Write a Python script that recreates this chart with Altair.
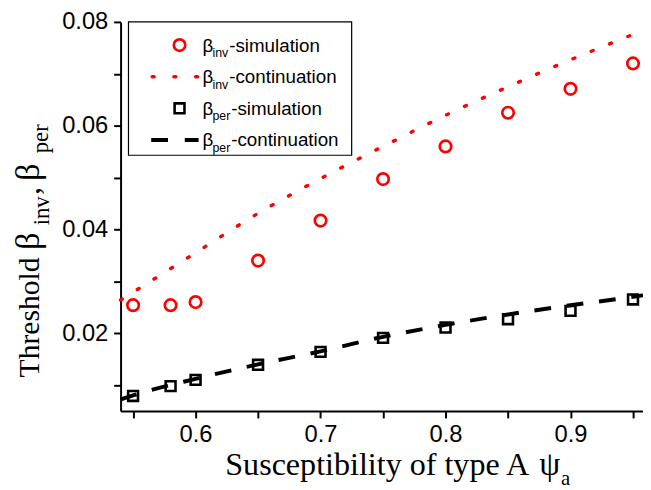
import altair as alt
import pandas as pd

# ---- data ----
sim_x = [0.55, 0.58, 0.60, 0.65, 0.70, 0.75, 0.80, 0.85, 0.90, 0.95]
inv_sim = [0.0254, 0.0254, 0.0260, 0.0340, 0.0417, 0.0497, 0.0560, 0.0625, 0.0671, 0.0720]
per_sim = [0.0079, 0.0098, 0.0110, 0.0139, 0.0164, 0.0191, 0.0211, 0.0227, 0.0243, 0.0265]

cont_x = [0.54, 0.55, 0.60, 0.65, 0.70, 0.75, 0.80, 0.85, 0.90, 0.95, 0.958]
inv_cont = [0.0264, 0.0279, 0.0355, 0.0431, 0.0498, 0.0560, 0.0620, 0.0675, 0.0727, 0.0776, 0.0784]
per_cont = [0.0072, 0.0080, 0.0112, 0.0140, 0.0165, 0.0193, 0.0216, 0.0236, 0.0254, 0.0270, 0.0273]

x_ticks = [0.55, 0.60, 0.65, 0.70, 0.75, 0.80, 0.85, 0.90, 0.95]
y_ticks = [0.01, 0.02, 0.03, 0.04, 0.05, 0.06, 0.07, 0.08]

sim = pd.DataFrame({"x": sim_x, "inv": inv_sim, "per": per_sim})
cont = pd.DataFrame({"x": cont_x, "inv": inv_cont, "per": per_cont})

RED = "#ff0000"
BLACK = "#000000"
SERIF = "Liberation Serif"
SANS = "Liberation Sans"

xs = alt.Scale(domain=[0.54, 0.958], nice=False, zero=False)
ys = alt.Scale(domain=[0.005, 0.08], nice=False, zero=False)

x_axis = alt.Axis(
    values=x_ticks,
    labelExpr="abs(datum.value*10 - round(datum.value*10)) < 0.001 ? format(datum.value, '.1f') : ''",
    title=None, grid=False, tickSize=7, tickWidth=2, domainWidth=2,
    labelPadding=5, labelFlush=False, labelOverlap=False,
)
y_axis = alt.Axis(
    values=y_ticks,
    labelExpr="abs(datum.value*50 - round(datum.value*50)) < 0.001 ? format(datum.value, '.2f') : ''",
    title=None, grid=False, tickSize=7, tickWidth=2, domainWidth=2,
    labelPadding=6, labelFlush=False, labelOverlap=False,
)

base_sim = alt.Chart(sim)
base_cont = alt.Chart(cont)

inv_pts = base_sim.mark_point(shape="circle", filled=False, color=RED, size=135, strokeWidth=2.7,
                              opacity=1).encode(
    x=alt.X("x:Q", scale=xs, axis=x_axis),
    y=alt.Y("inv:Q", scale=ys, axis=y_axis),
)
per_pts = base_sim.mark_point(shape="square", filled=False, color=BLACK, size=100, strokeWidth=2.6,
                              opacity=1).encode(
    x=alt.X("x:Q", scale=xs),
    y=alt.Y("per:Q", scale=ys),
)
inv_line = base_cont.mark_line(color=RED, strokeWidth=3.5, strokeDash=[2, 18], strokeCap="round",
                               interpolate="monotone").encode(
    x=alt.X("x:Q", scale=xs),
    y=alt.Y("inv:Q", scale=ys),
)
per_line = base_cont.mark_line(color=BLACK, strokeWidth=4, strokeDash=[17, 16],
                               interpolate="monotone").encode(
    x=alt.X("x:Q", scale=xs),
    y=alt.Y("per:Q", scale=ys),
)

one = alt.Data(values=[{}])


def txt(s, px, py, size, font=SERIF, align="left", angle=0, baseline="alphabetic"):
    return alt.Chart(one).mark_text(
        text=s, font=font, fontSize=size, align=align, baseline=baseline,
        angle=angle, color=BLACK,
    ).encode(x=alt.value(px), y=alt.value(py))


# axis titles (with subscripts)
x_title = [
    txt("Susceptibility of type A", 106, 459, 32.5),
    txt("\u03c8", 424, 459, 34),
    txt("a", 446, 469, 21),
]
y_title = [
    txt("Threshold", -83, 360, 30, angle=270),
    txt("\u03b2", -83, 231, 35, angle=270),
    txt("inv", -72, 206, 23, angle=270),
    txt(",", -83, 175, 31, angle=270),
    txt("\u03b2", -83, 161, 35, angle=270),
    txt("per", -73, 133, 23, angle=270),
]

# legend
legend_box = alt.Chart(one).mark_rect(fill="white", stroke=BLACK, strokeWidth=1.2).encode(
    x=alt.value(8), x2=alt.value(234), y=alt.value(0), y2=alt.value(135)
)
rows = [23.5, 55.5, 87.5, 119.5]
leg_items = [
    alt.Chart(one).mark_point(shape="circle", filled=False, color=RED, size=135, strokeWidth=2.7,
                              opacity=1).encode(x=alt.value(59.7), y=alt.value(rows[0])),
    alt.Chart(one).mark_rule(color=RED, strokeWidth=3.5, strokeDash=[2, 20], strokeCap="round").encode(
        x=alt.value(32), x2=alt.value(78), y=alt.value(rows[1])),
    alt.Chart(one).mark_point(shape="square", filled=False, color=BLACK, size=100, strokeWidth=2.6,
                              opacity=1).encode(x=alt.value(59.7), y=alt.value(rows[2])),
    alt.Chart(one).mark_rule(color=BLACK, strokeWidth=4, strokeDash=[17, 17]).encode(
        x=alt.value(31), x2=alt.value(79), y=alt.value(rows[3])),
]
leg_labels = [("inv", "-simulation"), ("inv", "-continuation"),
              ("per", "-simulation"), ("per", "-continuation")]
leg_text = []
for r, (sub, rest) in zip(rows, leg_labels):
    leg_text.append(txt("\u03b2", 83, r + 6.5, 19, font=SANS))
    leg_text.append(txt(sub, 93, r + 12, 12.5, font=SANS))
    leg_text.append(txt(rest, 110 if sub == "inv" else 112, r + 6.5, 19, font=SANS))

chart = alt.layer(
    inv_pts, per_pts, inv_line, per_line,
    *x_title, *y_title,
    legend_box, *leg_items, *leg_text,
).properties(
    width=529, height=394,
    autosize=alt.AutoSizeParams(type="none"),
    padding={"left": 114, "top": 11, "right": 0, "bottom": 85},
).configure_view(stroke=None).configure_axis(
    domainColor=BLACK, tickColor=BLACK, labelColor=BLACK,
    labelFont=SANS, labelFontSize=24,
)

chart.save("out.html", embed_options={"renderer": "svg", "actions": False})
